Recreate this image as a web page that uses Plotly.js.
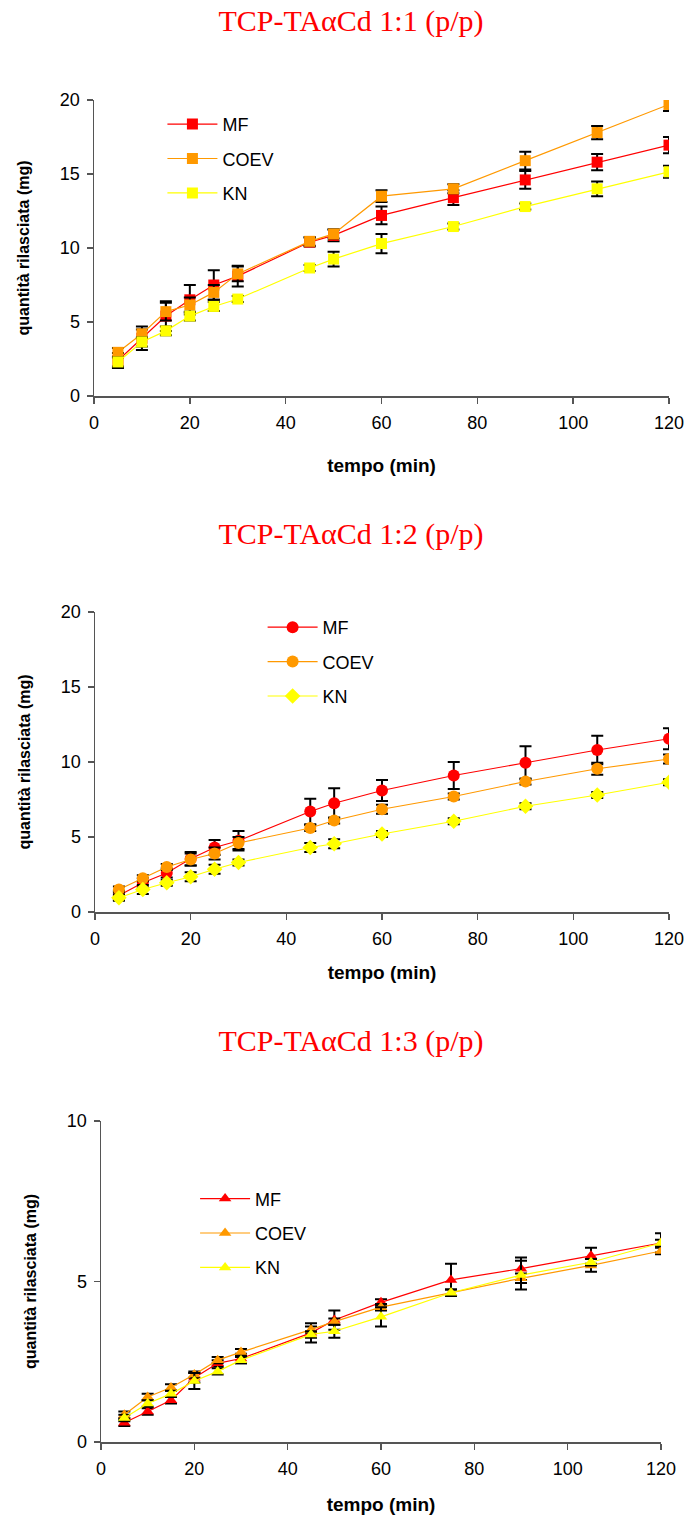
<!DOCTYPE html>
<html>
<head>
<meta charset="utf-8">
<script src="https://cdn.plot.ly/plotly-3.0.1.min.js"></script>
<style>
body{margin:0;padding:0;background:#fff;}
.c{width:686px;}
</style>
</head>
<body>
<div id="c1" class="c" style="height:500px"></div>
<div id="c2" class="c" style="height:510px"></div>
<div id="c3" class="c" style="height:515px"></div>
<script>
// time points (min)
const tempo = [5, 10, 15, 20, 25, 30, 45, 50, 60, 75, 90, 105, 120];
const seriesNames = ["MF", "COEV", "KN"];
const titles = ["TCP-TAαCd 1:1 (p/p)", "TCP-TAαCd 1:2 (p/p)", "TCP-TAαCd 1:3 (p/p)"];

// Chart 1 : 1:1
const mf1   = [2.4, 3.9, 5.4, 6.5, 7.5, 8.1, 10.4, 10.85, 12.2, 13.4, 14.6, 15.8, 16.95];
const coev1 = [2.95, 4.2, 5.7, 6.15, 7.0, 8.25, 10.45, 10.95, 13.5, 14.0, 15.9, 17.8, 19.7];
const kn1   = [2.3, 3.65, 4.4, 5.4, 6.05, 6.55, 8.65, 9.25, 10.3, 11.45, 12.8, 14.0, 15.15];
const mf1Err   = [0.5, 0.8, 1.0, 1.0, 1.0, 0.7, 0.3, 0.4, 0.6, 0.5, 0.6, 0.55, 0.55];
const coev1Err = [0.3, 0.3, 0.6, 0.5, 0.5, 0.5, 0.3, 0.3, 0.4, 0.3, 0.6, 0.45, 0.45];
const kn1Err   = [0.3, 0.3, 0.3, 0.3, 0.3, 0.2, 0.2, 0.5, 0.65, 0.2, 0.2, 0.5, 0.4];

// Chart 2 : 1:2
const mf2   = [1.1, 1.95, 2.6, 3.55, 4.3, 4.75, 6.7, 7.25, 8.1, 9.1, 9.95, 10.8, 11.55];
const coev2 = [1.5, 2.25, 3.0, 3.5, 3.9, 4.6, 5.6, 6.1, 6.85, 7.7, 8.7, 9.55, 10.2];
const kn2   = [0.95, 1.5, 1.95, 2.35, 2.85, 3.3, 4.3, 4.55, 5.2, 6.05, 7.05, 7.8, 8.65];
const mf2Err   = [0.3, 0.3, 0.3, 0.45, 0.5, 0.65, 0.85, 1.0, 0.7, 0.9, 1.1, 0.95, 0.7];
const coev2Err = [0.2, 0.2, 0.2, 0.4, 0.4, 0.4, 0.2, 0.2, 0.3, 0.2, 0.2, 0.4, 0.3];
const kn2Err   = [0.2, 0.3, 0.2, 0.3, 0.3, 0.2, 0.3, 0.3, 0.2, 0.2, 0.2, 0.2, 0.2];

// Chart 3 : 1:3
const mf3   = [0.6, 0.95, 1.3, 2.0, 2.45, 2.6, 3.4, 3.8, 4.35, 5.05, 5.4, 5.8, 6.2];
const coev3 = [0.85, 1.4, 1.7, 2.1, 2.55, 2.8, 3.5, 3.75, 4.2, 4.65, 5.1, 5.5, 5.95];
const kn3   = [0.75, 1.2, 1.5, 1.9, 2.2, 2.55, 3.35, 3.45, 3.9, 4.65, 5.2, 5.6, 6.2];
const mf3Err   = [0.1, 0.1, 0.1, 0.15, 0.1, 0.15, 0.3, 0.3, 0.1, 0.5, 0.35, 0.25, 0.3];
const coev3Err = [0.1, 0.1, 0.1, 0.1, 0.1, 0.1, 0.1, 0.1, 0.1, 0.1, 0.15, 0.2, 0.1];
const kn3Err   = [0.1, 0.1, 0.1, 0.25, 0.1, 0.1, 0.1, 0.2, 0.3, 0.1, 0.45, 0.1, 0.1];

const colors = ["#ff0000", "#ff9900", "#ffff00"];
const sans = "Liberation Sans, Arial, sans-serif";

function trace(name, y, err, color, symbol, size, grp){
  return {
    x: tempo, y: y, name: name, type: "scatter", mode: "lines+markers",
    legendgroup: grp,
    line: {color: color, width: 1.2},
    marker: {color: color, symbol: symbol, size: size, line: {width: 0}},
    error_y: {type: "data", array: err, visible: true, color: "#000", thickness: 2, width: 6}
  };
}

function layout(title, ymax, dtick, m){
  return {
    width: 686, height: m.h, paper_bgcolor: "#fff", plot_bgcolor: "#fff",
    margin: {l: m.l, r: m.r, t: m.t, b: m.b, pad: 0},
    showlegend: true,
    title: {text: title, font: {family: "Liberation Serif, Times New Roman, serif", size: 30, color: "#ff0000"},
            x: 351/686, xanchor: "center", xref: "container", y: 1 - m.ty / m.h, yref: "container", yanchor: "middle"},
    xaxis: {range: [0, 120], dtick: 20, showgrid: false, zeroline: false, showline: true, linecolor: "#555", linewidth: 1.5,
            ticks: "outside", ticklen: 6, tickcolor: "#555", tickwidth: 1.5, ticklabelstandoff: 4,
            tickfont: {family: sans, size: 18, color: "#000"},
            title: {text: "<b>tempo (min)</b>", font: {family: sans, size: 19, color: "#000"}, standoff: m.xs}},
    yaxis: {range: [0, ymax], dtick: dtick, showgrid: false, zeroline: false, showline: true, linecolor: "#555", linewidth: 1.5,
            ticks: "outside", ticklen: 6, tickcolor: "#555", tickwidth: 1.5, ticklabelstandoff: 3,
            tickfont: {family: sans, size: 18, color: "#000"},
            title: {text: "<b>quantità rilasciata (mg)</b>", font: {family: sans, size: 16, color: "#000"}, standoff: m.ys}},
    legend: {x: m.lx, y: m.ly, xanchor: "left", yanchor: "top", bgcolor: "rgba(0,0,0,0)",
             font: {family: sans, size: 18, color: "#000"}, itemwidth: 50,
             tracegroupgap: 8, traceorder: "grouped"}
  };
}

const cfg = {displayModeBar: false, staticPlot: true};

Plotly.newPlot("c1", [
  trace(seriesNames[0], mf1, mf1Err, colors[0], "square", 11, "a"),
  trace(seriesNames[1], coev1, coev1Err, colors[1], "square", 11, "b"),
  trace(seriesNames[2], kn1, kn1Err, colors[2], "square", 11, "c")
], layout(titles[0], 20, 5, {h: 500, l: 94, r: 17, t: 100, b: 104, xs: 26, ys: 26, lx: 0.119, ly: 0.98, ty: 20}), cfg);

Plotly.newPlot("c2", [
  trace(seriesNames[0], mf2, mf2Err, colors[0], "circle", 12, "a"),
  trace(seriesNames[1], coev2, coev2Err, colors[1], "circle", 12, "b"),
  trace(seriesNames[2], kn2, kn2Err, colors[2], "diamond", 12, "c")
], layout(titles[1], 20, 5, {h: 510, l: 95, r: 17, t: 112, b: 98, xs: 17, ys: 26, lx: 0.292, ly: 1.01, ty: 33}), cfg);

Plotly.newPlot("c3", [
  trace(seriesNames[0], mf3, mf3Err, colors[0], "triangle-up", 11, "a"),
  trace(seriesNames[1], coev3, coev3Err, colors[1], "triangle-up", 11, "b"),
  trace(seriesNames[2], kn3, kn3Err, colors[2], "triangle-up", 11, "c")
], layout(titles[2], 10, 5, {h: 515, l: 101, r: 25, t: 111, b: 83, xs: 19, ys: 26, lx: 0.168, ly: 0.815, ty: 30}), cfg);
</script>
</body>
</html>
